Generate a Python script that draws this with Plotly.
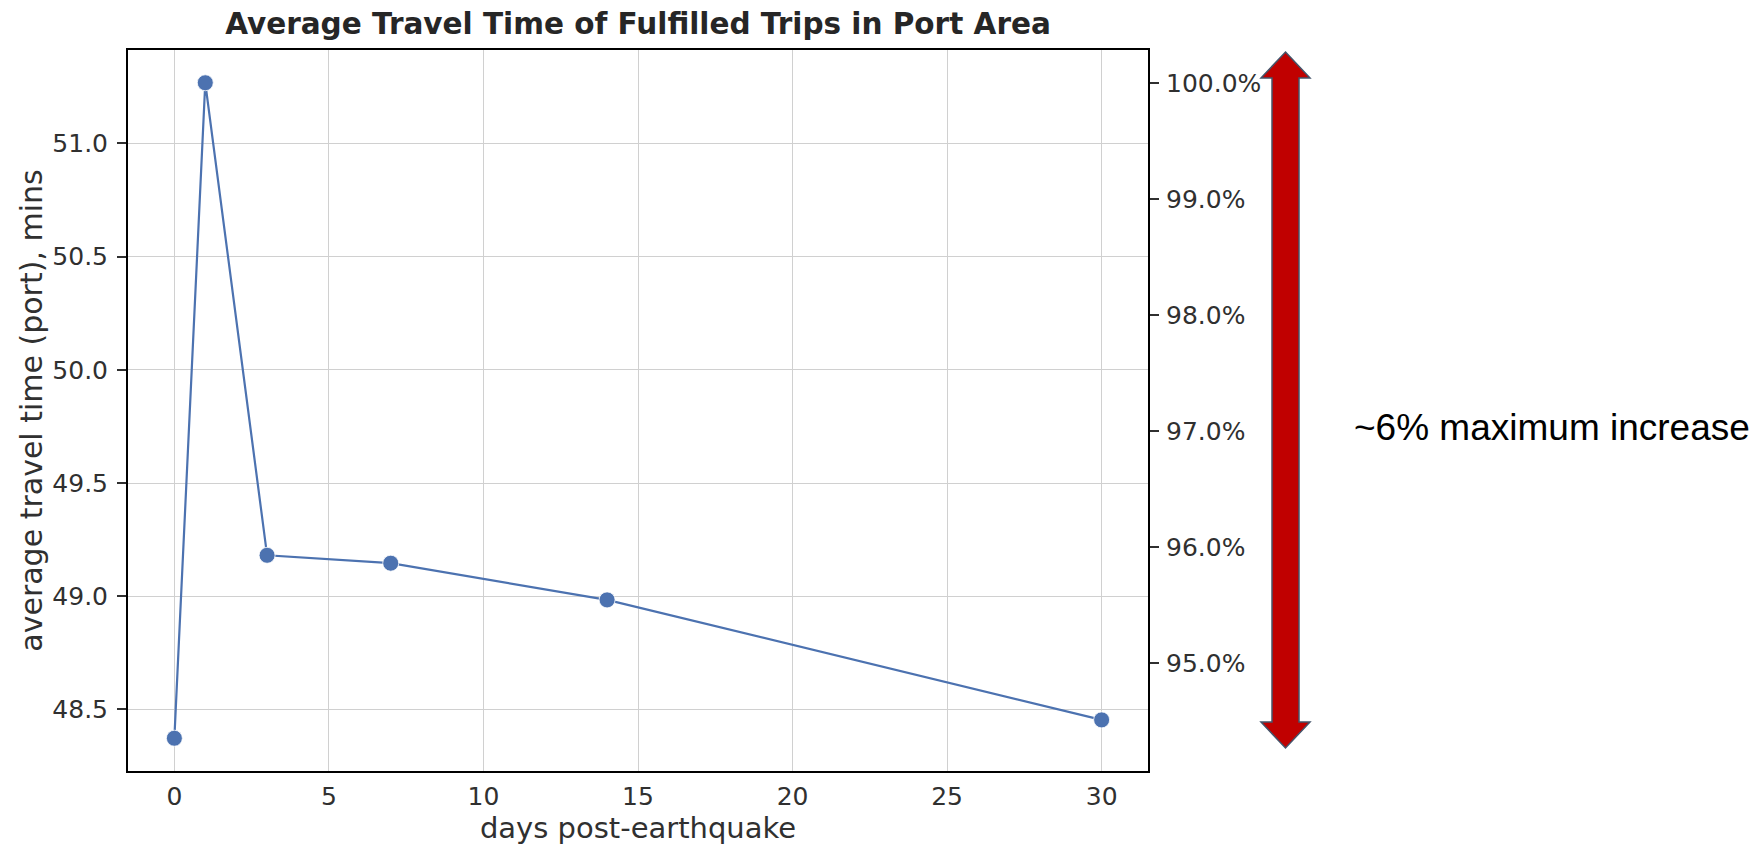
import plotly.graph_objects as go

# ---- data ----
days = [0, 1, 3, 7, 14, 30]
travel_time = [48.373, 51.268, 49.181, 49.146, 48.984, 48.454]
x_ticks = [0, 5, 10, 15, 20, 25, 30]
y_ticks = [48.5, 49.0, 49.5, 50.0, 50.5, 51.0]
pct_ticks = [95, 96, 97, 98, 99, 100]
title_text = "Average Travel Time of Fulfilled Trips in Port Area"
x_title = "days post-earthquake"
y_title = "average travel time (port), mins"
note_text = "~6% maximum increase"

OFF = 8  # default page body margin
W, H = 1760 - OFF, 848 - OFF
L, R, T, B = 128 - OFF, 1148 - OFF, 50 - OFF, 771 - OFF

peak = max(travel_time)
pct = [v / peak * 100 for v in travel_time]

# matplotlib-like 5% margins
xm = (max(days) - min(days)) * 0.05
xr = [min(days) - xm, max(days) + xm]
ym = (max(travel_time) - min(travel_time)) * 0.05
yr = [min(travel_time) - ym, max(travel_time) + ym]
yr2 = [yr[0] / peak * 100, yr[1] / peak * 100]

def px(xp):
    return (xp - OFF - L) / (R - L)

def py(yp):
    return (B - (yp - OFF)) / (B - T)

BLUE = "#4C72B0"
TXT = "#303030"
GRID = "#d0d0d0"

fig = go.Figure()
fig.add_trace(go.Scatter(
    x=days, y=travel_time, mode="lines+markers",
    line=dict(color=BLUE, width=2.2),
    marker=dict(color=BLUE, size=16, line=dict(color="white", width=0.8)),
    showlegend=False, hoverinfo="x+y"))
fig.add_trace(go.Scatter(
    x=days, y=pct, mode="lines", yaxis="y2",
    line=dict(color="rgba(0,0,0,0)", width=0),
    showlegend=False, hoverinfo="skip"))

font_ticks = dict(family="DejaVu Sans", size=25, color=TXT)

fig.update_layout(
    width=W, height=H,
    margin=dict(l=L, r=W - R, t=T, b=H - B, autoexpand=False),
    paper_bgcolor="white", plot_bgcolor="white",
    title=dict(text="<b>" + title_text + "</b>", x=0.5, xref="paper",
               y=1 - (24 - OFF) / H, yref="container", xanchor="center", yanchor="middle",
               font=dict(family="DejaVu Sans", size=29.5, color="#262626")),
    xaxis=dict(range=xr, tickvals=x_ticks, ticks="", ticklabelstandoff=2,
               tickfont=font_ticks,
               showgrid=True, gridcolor=GRID, gridwidth=1, zeroline=False,
               showline=True, linecolor="black", linewidth=2, mirror=True,
               title=dict(text=x_title, standoff=8,
                          font=dict(family="DejaVu Sans", size=29, color=TXT))),
    yaxis=dict(range=yr, tickvals=y_ticks, tickformat=".1f", ticks="outside",
               ticklen=9, tickcolor=TXT, tickwidth=1.5, tickfont=font_ticks,
               ticklabelstandoff=4,
               showgrid=True, gridcolor=GRID, gridwidth=1, zeroline=False,
               showline=True, linecolor="black", linewidth=2, mirror=True,
               title=dict(text=y_title, standoff=1,
                          font=dict(family="DejaVu Sans", size=30, color=TXT))),
    yaxis2=dict(range=yr2, overlaying="y", side="right", tickvals=pct_ticks,
                ticktext=[f"{v:.1f}%" for v in pct_ticks], ticks="outside", ticklen=9,
                tickcolor=TXT, tickwidth=1.5, tickfont=font_ticks,
                ticklabelstandoff=2,
                showgrid=False, zeroline=False,
                showline=True, linecolor="black", linewidth=2),
)

# double-headed arrow (decoration)
xl, xsl, xc, xsr, xr_ = 1261, 1272, 1285.5, 1299, 1310
yt, ywt, ywb, yb = 52, 78, 722, 748
pts = [(xc, yt), (xr_, ywt), (xsr, ywt), (xsr, ywb), (xr_, ywb), (xc, yb),
       (xl, ywb), (xsl, ywb), (xsl, ywt), (xl, ywt)]
path = "M " + " L ".join(f"{px(a):.5f},{py(b):.5f}" for a, b in pts) + " Z"
fig.add_shape(type="path", path=path, xref="paper", yref="paper",
              fillcolor="#C00000", line=dict(color="#44546A", width=1.5))

fig.add_annotation(text=note_text, x=px(1352), y=py(427), xref="paper", yref="paper",
                   xanchor="left", yanchor="middle", showarrow=False,
                   font=dict(family="Liberation Sans, Arial", size=37, color="black"))

fig.write_html("out.html")
